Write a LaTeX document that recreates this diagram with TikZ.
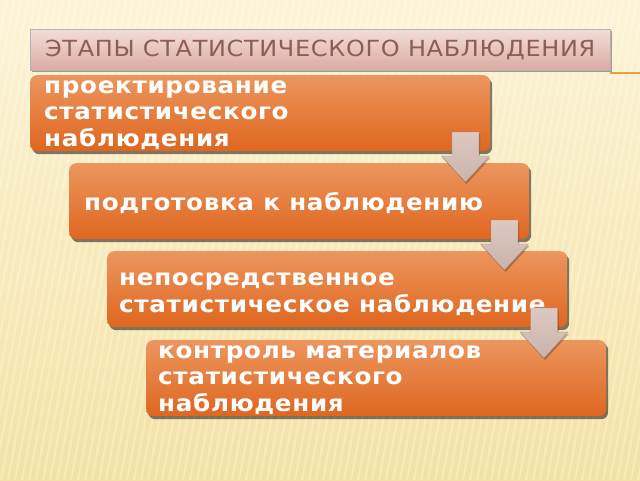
\documentclass[tikz,border=0pt]{standalone}
\usepackage{fontspec}
\setmainfont{DejaVu Sans}[LetterSpace=3,FakeStretch=1.08]
\usetikzlibrary{shadows}
\definecolor{paper1}{HTML}{FDF4D6}
\definecolor{paper2}{HTML}{F4E1A4}
\definecolor{pink1}{HTML}{F4DDD8}
\definecolor{pink2}{HTML}{D9ABA3}
\definecolor{titletext}{HTML}{8C5E54}
\definecolor{orange1}{HTML}{EC965E}
\definecolor{orange2}{HTML}{DF661F}
\definecolor{arrow1}{HTML}{DCC9C2}
\definecolor{arrow2}{HTML}{CCB3AB}
\definecolor{rulecol}{HTML}{E8A040}
\tikzset{titlebox/.style={draw=black!30,top color=pink1,bottom color=pink2,text=titletext,
    font=\fontsize{22.2}{26}\selectfont,inner sep=0pt,anchor=north west,
    minimum width=580pt,minimum height=41pt,
    drop shadow={shadow xshift=1.5pt,shadow yshift=-2pt,fill=black,opacity=.35}}}
\tikzset{stage/.style={rounded corners=7pt,top color=orange1,bottom color=orange2,
    inner sep=0pt,anchor=north west,minimum width=460pt,minimum height=76pt,
    drop shadow={shadow xshift=2pt,shadow yshift=-3pt,fill=black,opacity=.5}}}
\tikzset{stagetext/.style={text=white,font=\bfseries\fontsize{22.8}{26.5}\selectfont,
    align=left,inner sep=0pt,anchor=base west}}
\tikzset{downarrow/.style={top color=arrow1,bottom color=arrow2,draw=arrow2!80!black,line width=.3pt,
    drop shadow={shadow xshift=1pt,shadow yshift=-2pt,fill=black,opacity=.25}}}
\begin{document}
\begin{tikzpicture}[x=1pt,y=-1pt]
\useasboundingbox (0,0) rectangle (640,480);
% background
\path[top color=paper1,bottom color=paper2] (0,0) rectangle (640,480);
\begin{scope}
\clip (0,0) rectangle (640,480);
\foreach \i in {0,7,...,760}
  \draw[white,opacity=.3,line width=2pt] (\i-90,480) -- (\i,0);
\end{scope}
%
\node (title) [titlebox] at (30,29) {ЭТАПЫ СТАТИСТИЧЕСКОГО НАБЛЮДЕНИЯ};
\coordinate (rulend) at (640,73);
\draw[rulecol,line width=1.2pt] (title.east |- rulend) -- (rulend);
%
\node (p1) [stage] at (30,75) {};
\node (p2) [stage] at (69,163) {};
\node (p3) [stage] at (107,251) {};
\node (p4) [stage] at (146,340) {};
%
% multi-line texts: base is the last line
\node (t1) [stagetext] at (44,146) {проектирование\\статистического\\наблюдения};
\node (t2) [stagetext] at (84,210) {подготовка к наблюдению};
\node (t3) [stagetext] at (119,312) {непосредственное\\статистическое наблюдение};
\node (t4) [stagetext] at (158,411) {контроль материалов\\статистического\\наблюдения};
%
\foreach \cx/\top in {465.5/132,504.5/220,544/308}
  \path[downarrow] (\cx-13.5,\top) -- ++(27,0) -- ++(0,24) -- ++(10.5,0)
    -- (\cx,\top+50) -- (\cx-24,\top+24) -- ++(10.5,0) -- cycle;
\end{tikzpicture}
\end{document}
